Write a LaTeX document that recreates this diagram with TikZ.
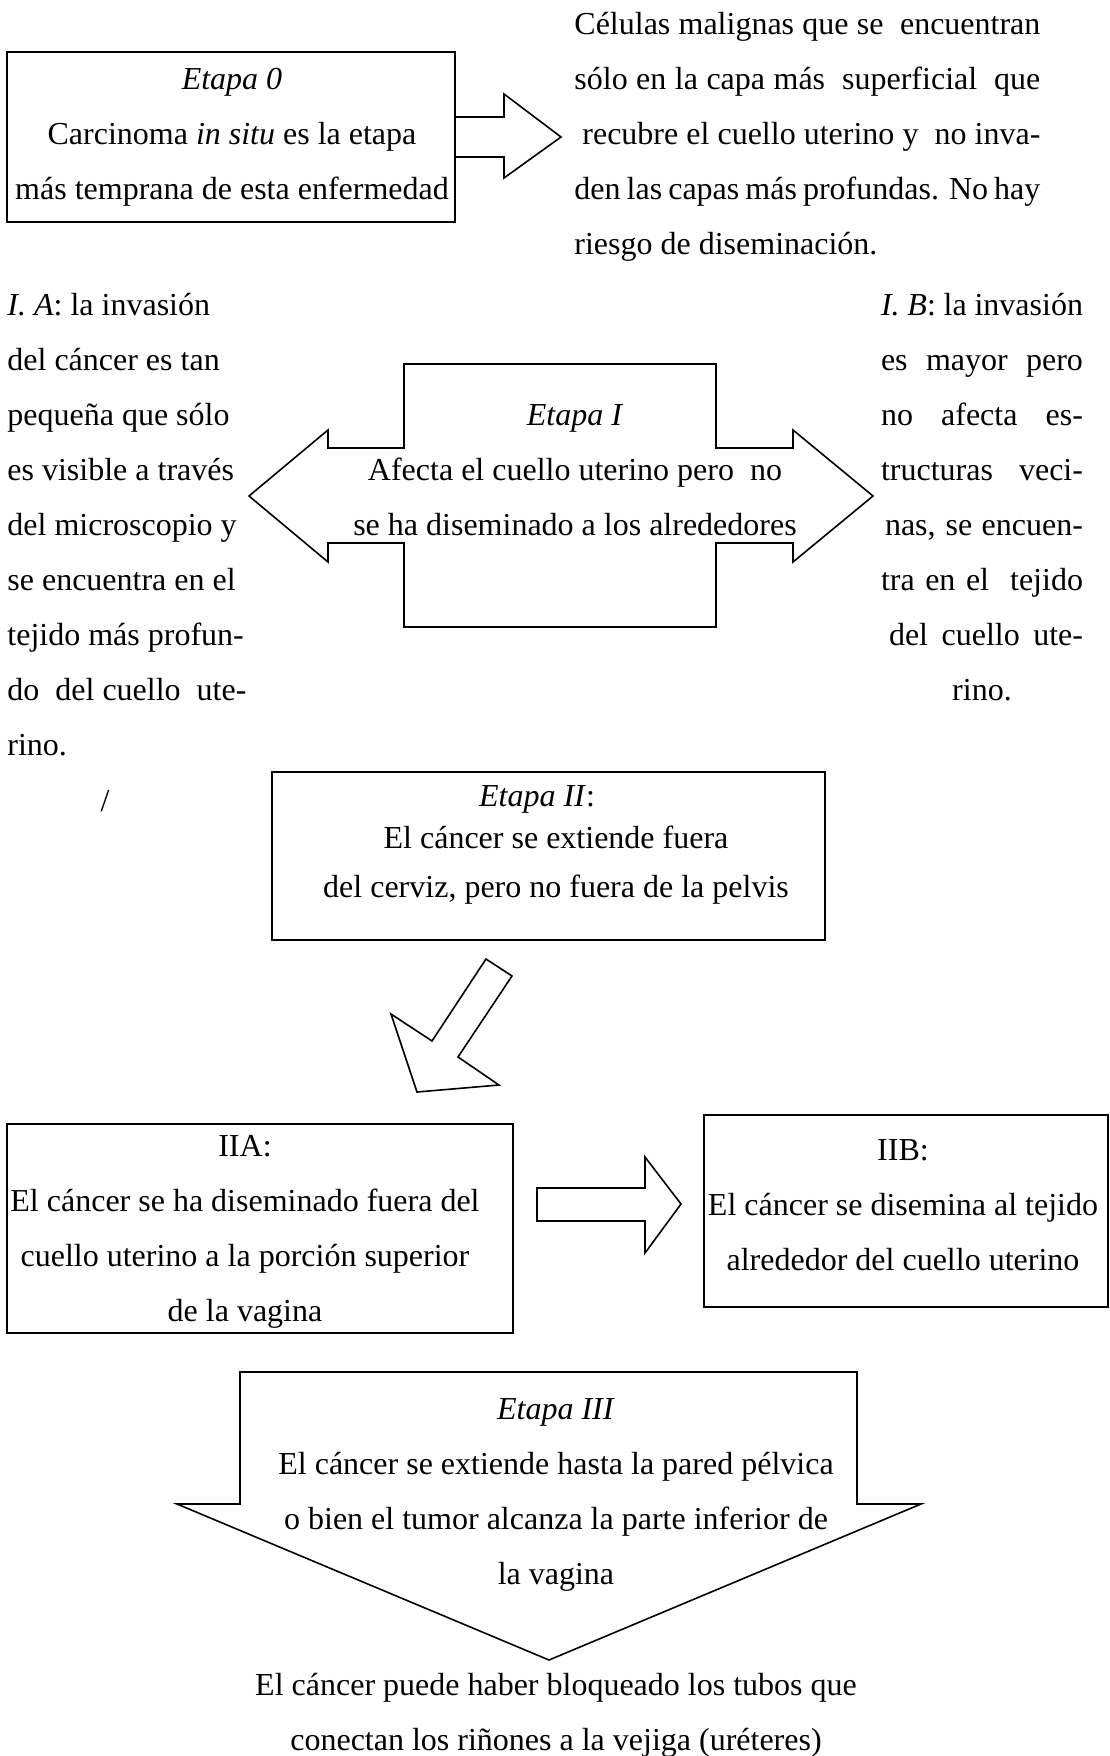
\documentclass[tikz,border=0pt]{standalone}
\usepackage{fontspec}
\setmainfont{Liberation Serif}
\begin{document}
\begin{tikzpicture}[x=0.5pt, y=-0.5pt,
  txt/.style={font=\fontsize{16}{27.5}\selectfont, inner sep=0pt, align=center},
  caja/.style={line width=1pt},
  flecha/.style={line width=0.8pt, line join=miter}]
\useasboundingbox (0,0) rectangle (1109,1756);
\draw[caja](7,52) rectangle (455,222);
\node[txt] (e0) at (232,137) {\textit{Etapa 0}\\Carcinoma \textit{in situ} es la etapa\\más temprana de esta enfermedad};
\draw[flecha](455,117)--(504,117)--(504,94)--(561,137)--(504,178)--(504,157)--(455,157);
\node[txt, anchor=west, align=left] (e0d) at (574,137) {\makebox[233pt][s]{Células malignas que se\ \ encuentran}\\
  \makebox[233pt][s]{sólo en la capa más\ \ superficial\ \ que}\\
  \makebox[233pt][s]{\hspace*{4pt}recubre el cuello uterino y\ \ no inva-}\\
  \makebox[233pt][s]{den las capas más profundas. No hay}\\
  riesgo de diseminación.};
\node[txt, anchor=west, align=left] (ia) at (7,525) {\textit{I. A}: la invasión\\del cáncer es tan\\pequeña que sólo\\es visible a través\\del microscopio y\\se encuentra en el\\tejido más profun-\\do\ \ del cuello\ \ ute-\\rino.};
\node[txt] (ib) at (982,497) {\makebox[101pt][s]{\textit{I. B}: la invasión}\\
  \makebox[101pt][s]{es mayor pero}\\
  \makebox[101pt][s]{no afecta es-}\\
  \makebox[101pt][s]{tructuras veci-}\\
  \makebox[101pt][s]{\hspace*{2pt}nas, se encuen-}\\
  \makebox[101pt][s]{tra en el\ \ tejido}\\
  \makebox[101pt][s]{\hspace*{4pt}del cuello ute-}\\
  rino.};
\draw[flecha](404,364)--(716,364)--(716,448)--(793,448)--(793,430)--(873,496)--(793,562)--(793,543)--(716,543)--(716,627)
  --(404,627)--(404,543)--(328,543)--(328,562)--(249,496)--(328,430)--(328,448)--(404,448)--cycle;
\node[txt] (e1) at (575,470) {\textit{Etapa I}\\Afecta el cuello uterino pero\ \ no\\se ha diseminado a los alrededores};
\node[txt] (barra) at (105,801) {/};
\draw[caja](272,772) rectangle (825,940);
\node[txt] (e2a) at (537,799) {\textit{Etapa II}:};
\node[txt] (e2b) at (556,837) {El cáncer se extiende fuera};
\node[txt] (e2c) at (556,890) {del cerviz, pero no fuera de la pelvis};
\draw[flecha](486,959)--(512,976)--(458,1057)--(499,1085)--(417,1092)--(391,1014)--(432,1041)--cycle;
\draw[caja](7,1124) rectangle (513,1333);
\node[txt] (iia) at (245,1232) {IIA:\\El cáncer se ha diseminado fuera del\\cuello uterino a la porción superior\\de la vagina};
\draw[flecha](537,1188)--(645,1188)--(645,1157)--(681,1204)--(645,1253)--(645,1221)--(537,1221)--cycle;
\draw[caja](704,1115) rectangle (1108,1307);
\node[txt] (iib) at (903,1205) {IIB:\\El cáncer se disemina al tejido\\alrededor del cuello uterino};
\draw[flecha](240,1372)--(857,1372)--(857,1504)--(921,1504)--(549,1660)--(177,1504)--(240,1504)--cycle;
\node[txt] (e3) at (556,1495) {\textit{Etapa III}\\El cáncer se extiende hasta la pared pélvica\\o bien el tumor alcanza la parte inferior de\\la vagina};
\node[txt] (e3b) at (556,1715) {El cáncer puede haber bloqueado los tubos que\\conectan los riñones a la vejiga (uréteres)};
\end{tikzpicture}
\end{document}
